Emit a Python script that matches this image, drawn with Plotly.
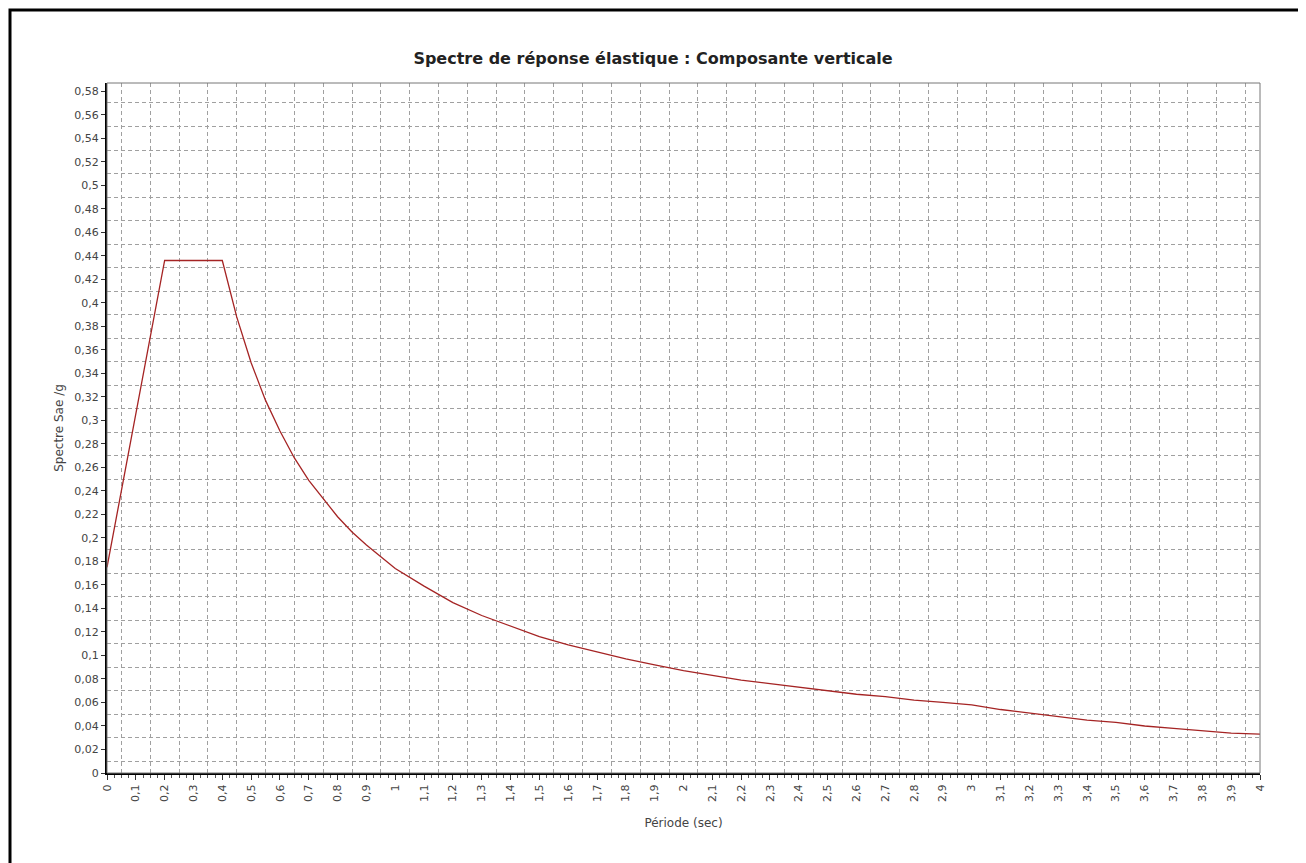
import plotly.graph_objects as go

# ---- data ----
periods = [0.0, 0.05, 0.1, 0.15, 0.2, 0.4, 0.45, 0.5, 0.55, 0.6, 0.65, 0.7, 0.75, 0.8, 0.85,
           0.9, 0.95, 1.0, 1.1, 1.2, 1.3, 1.4, 1.5, 1.6, 1.7, 1.8, 1.9, 2.0, 2.1, 2.2,
           2.3, 2.4, 2.5, 2.6, 2.7, 2.8, 2.9, 3.0, 3.1, 3.2, 3.3, 3.4, 3.5, 3.6, 3.7,
           3.8, 3.9, 4.0]
sae_g = [0.175, 0.240, 0.306, 0.371, 0.436, 0.436, 0.388, 0.349, 0.317, 0.291, 0.268, 0.249,
         0.233, 0.218, 0.205, 0.194, 0.184, 0.174, 0.159, 0.145, 0.134, 0.125, 0.116,
         0.109, 0.103, 0.097, 0.092, 0.087, 0.083, 0.079, 0.076, 0.073, 0.070, 0.067,
         0.065, 0.062, 0.060, 0.058, 0.054, 0.051, 0.048, 0.045, 0.043, 0.040, 0.038,
         0.036, 0.034, 0.033]

x_tick_vals = [i / 10 for i in range(41)]
x_tick_labels = [("%g" % v).replace(".", ",") for v in x_tick_vals]
y_tick_vals = [i / 100 for i in range(0, 59, 2)]
y_tick_labels = [("%g" % v).replace(".", ",") for v in y_tick_vals]
x_grid_vals = [0.05 + i / 10 for i in range(40)]
y_grid_vals = [0.01 + i / 50 for i in range(29)]

title_text = "Spectre de réponse élastique : Composante verticale"
x_title = "Période (sec)"
y_title = "Spectre Sae /g"

FONT = "DejaVu Sans"
OFF = 8  # page body margin
W, H = 1306, 863
L, R, T, B = 107 - OFF, W - (1260 - OFF), 83 - OFF, H - (773 - OFF)
pw, ph = W - L - R, H - T - B

fig = go.Figure()
fig.add_trace(go.Scatter(x=periods, y=sae_g, mode="lines",
                         line=dict(color="#a52424", width=1.3),
                         showlegend=False, hoverinfo="skip"))
# invisible helper trace to carry overlay axes
fig.add_trace(go.Scatter(x=[0], y=[0], xaxis="x2", yaxis="y2", mode="markers",
                         marker=dict(opacity=0), showlegend=False, hoverinfo="skip"))

grid = dict(showgrid=True, gridcolor="#a0a0a0", gridwidth=1, griddash="4px,3px")

fig.update_layout(
    width=W, height=H,
    margin=dict(l=L, r=R, t=T, b=B),
    paper_bgcolor="white", plot_bgcolor="white",
    font=dict(family=FONT, size=11, color="#333333"),
    title=dict(text="<b>" + title_text + "</b>", x=(653 - OFF - L) / pw, xref="paper",
               xanchor="center", y=1 - (58 - OFF) / H, yanchor="middle",
               font=dict(family=FONT, size=16, color="#222222")),
    xaxis=dict(range=[0, 4], tickvals=x_tick_vals, ticktext=x_tick_labels,
               tickangle=-90, ticks="outside", ticklen=5, tickcolor="#333",
               showgrid=False, zeroline=False, showline=True, linecolor="black",
               linewidth=2, tickfont=dict(size=11, color="#444"),
               title=dict(text=x_title, font=dict(size=12, color="#444"), standoff=18),
               minor=dict(dtick=0.025, ticks="outside", ticklen=3, tickcolor="#555")),
    yaxis=dict(range=[0, 0.587], tickvals=y_tick_vals, ticktext=y_tick_labels,
               ticks="outside", ticklen=4, tickcolor="#333",
               showgrid=False, zeroline=False, showline=True, linecolor="black",
               linewidth=2, tickfont=dict(size=11, color="#444"),
               title=dict(text=y_title, font=dict(size=12, color="#444"), standoff=8)),
    xaxis2=dict(range=[0, 4], overlaying="x", side="bottom", tickvals=x_grid_vals,
                showticklabels=False, ticks="", zeroline=False, showline=False, **grid),
    yaxis2=dict(range=[0, 0.587], overlaying="y", side="left", tickvals=y_grid_vals,
                showticklabels=False, ticks="", zeroline=False, showline=False, **grid),
)

# gray frame on top/right of plot area
fig.add_shape(type="rect", xref="paper", yref="paper", x0=0, x1=1, y0=0, y1=1,
              line=dict(color="#777", width=1), layer="above")
# outer border of the chart panel
bottom_fig = 773 - OFF
fig.add_shape(type="rect", xref="paper", yref="paper",
              x0=(10 - OFF - L) / pw, x1=(1300 - OFF - L) / pw,
              y0=(bottom_fig - 900) / ph, y1=(bottom_fig - (10 - OFF)) / ph,
              line=dict(color="black", width=3), layer="above")

fig.write_html("out.html")
